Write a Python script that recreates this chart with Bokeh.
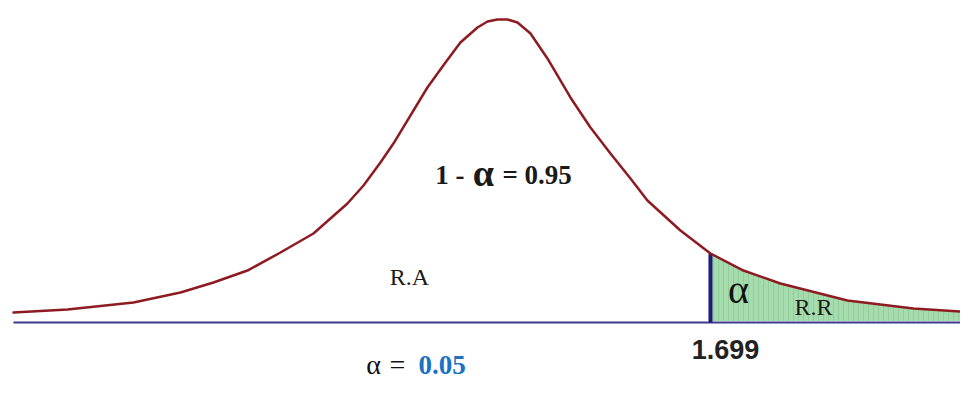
from bokeh.plotting import figure
from bokeh.models import Range1d
from bokeh.embed import file_html
from bokeh.resources import INLINE
from bokeh.core.properties import value

# ---- data ----
# t values along the drawn density curve
curve_t = [-3.940, -3.503, -2.969, -2.589, -2.322, -2.047, -1.780, -1.513, -1.238,
           -1.108, -0.971, -0.866, -0.591, -0.445, -0.324, -0.186, -0.105, -0.024,
           0.057, 0.138, 0.243, 0.380, 0.566, 0.728, 0.890, 1.052, 1.189, 1.456,
           1.699, 1.966, 2.265, 2.807, 3.341, 3.851]
# density heights of the drawn curve
curve_d = [0.0132, 0.0171, 0.0263, 0.0395, 0.0526, 0.0684, 0.0921, 0.1171, 0.1566,
           0.1803, 0.2105, 0.2355, 0.3092, 0.3421, 0.3684, 0.3882, 0.3961, 0.3987,
           0.3987, 0.3947, 0.3803, 0.3474, 0.2961, 0.2566, 0.2224, 0.1895, 0.1605,
           0.1211, 0.0908, 0.0684, 0.0513, 0.0289, 0.0184, 0.0132]
critical_t = 1.699
critical_label = "1.699"
alpha = 0.05
conf_parts = ["1 -", "\u03b1", "= 0.95"]
accept_label = "R.A"
reject_label = "R.R"

# ---- figure ----
p = figure(width=960, height=380, output_backend="svg", toolbar_location=None,
           x_range=Range1d(-4.045, 3.722), y_range=Range1d(-0.0763, 0.4237),
           min_border=0, min_border_left=0, min_border_right=0,
           min_border_top=0, min_border_bottom=0)
p.axis.visible = False
p.xgrid.visible = False
p.ygrid.visible = False
p.outline_line_color = None
p.background_fill_color = "white"
p.border_fill_color = "white"

# rejection region (tail)
i0 = curve_t.index(critical_t)
tail_t = curve_t[i0:]
tail_d = curve_d[i0:]
p.varea(x=tail_t, y1=[0.002] * len(tail_t), y2=tail_d, fill_color="#a6dcad",
        hatch_pattern="vertical_line", hatch_color="#7cc48a", hatch_alpha=0.55,
        hatch_scale=5, hatch_weight=1)

# baseline
p.line(x=[curve_t[0], 4.2], y=[0, 0], line_color="#3b3b8a", line_width=2)

# critical value line
p.segment(x0=[critical_t], y0=[0], x1=[critical_t], y1=[curve_d[i0]],
          line_color="#1c1c7a", line_width=4)

# density curve
p.line(x=curve_t, y=curve_d, line_color="#8e1a22", line_width=2.5,
       line_join="round", line_cap="round")

serif = value("Liberation Serif")
sans = value("Liberation Sans")
mid = "middle"

# 1 - alpha = 0.95
p.text(x=[-0.291], y=[0.1947], text=[conf_parts[0]], text_font=serif,
       text_font_style="bold", text_font_size="27px", text_color="#1a1a1a",
       text_align="right", text_baseline=mid)
p.text(x=[-0.138], y=[0.1970], text=[conf_parts[1]], text_font=serif,
       text_font_style="bold", text_font_size="38px", text_color="#1a1a1a",
       text_align="center", text_baseline=mid)
p.text(x=[0.016], y=[0.1947], text=[conf_parts[2]], text_font=serif,
       text_font_style="bold", text_font_size="27px", text_color="#1a1a1a",
       text_align="left", text_baseline=mid)

p.text(x=[-0.736], y=[0.0600], text=[accept_label], text_font=serif,
       text_font_size="24px", text_color="#1a1a1a",
       text_align="center", text_baseline=mid)
p.text(x=[1.926], y=[0.0434], text=["\u03b1"], text_font=serif,
       text_font_size="40px", text_color="#111111",
       text_align="center", text_baseline=mid)
p.text(x=[2.532], y=[0.0205], text=[reject_label], text_font=serif,
       text_font_size="24px", text_color="#1a1a1a",
       text_align="center", text_baseline=mid)
p.text(x=[1.820], y=[-0.0360], text=[critical_label], text_font=sans,
       text_font_style="bold", text_font_size="27px", text_color="#222222",
       text_align="center", text_baseline=mid)

# alpha = 0.05
p.text(x=[-1.027], y=[-0.0553], text=["\u03b1"], text_font=serif,
       text_font_size="28px", text_color="#111111",
       text_align="center", text_baseline=mid)
p.text(x=[-0.833], y=[-0.0553], text=["="], text_font=serif,
       text_font_size="28px", text_color="#111111",
       text_align="center", text_baseline=mid)
p.text(x=[-0.663], y=[-0.0553], text=[f"{alpha:.2f}"], text_font=serif,
       text_font_style="bold", text_font_size="27px", text_color="#1b72c2",
       text_align="left", text_baseline=mid)

open("out.html", "w").write(file_html(p, INLINE))
